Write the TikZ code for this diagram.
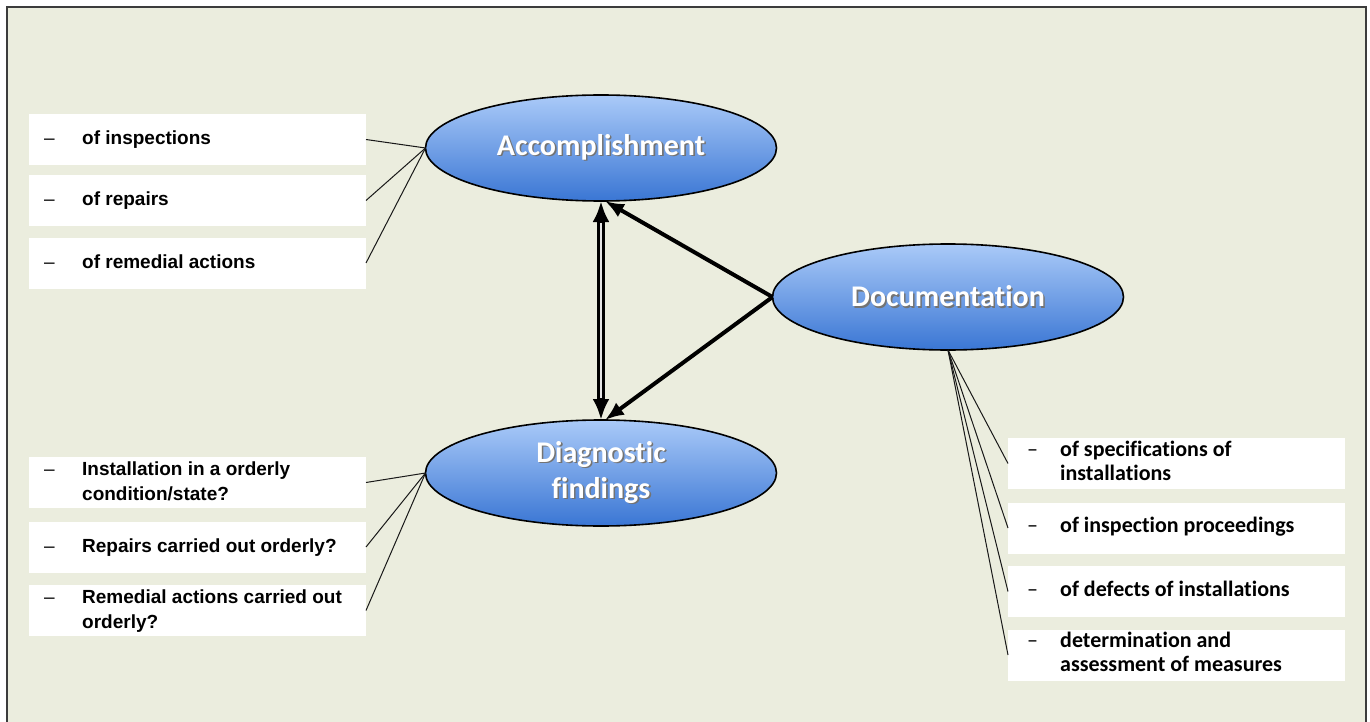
\documentclass[tikz,border=0pt]{standalone}
\usepackage{fontspec}
\setmainfont{Liberation Sans}
\newfontfamily\calibri[Ligatures=NoCommon]{Carlito}
\usetikzlibrary{shapes.geometric,arrows.meta,calc}
\definecolor{paper}{RGB}{235,237,222}
\definecolor{frameline}{RGB}{60,60,60}
\definecolor{ellTop}{RGB}{170,202,248}
\definecolor{ellBot}{RGB}{58,118,212}
% white label text with a soft dark drop shadow
\newcommand\glowtext[1]{\makebox[0pt][l]{\hspace{1.6pt}\raisebox{-1.6pt}{\textcolor{black!55}{#1}}}\textcolor{white}{#1}}
\tikzset{
  bubble/.style={ellipse, draw=black, line width=1.6pt, top color=ellTop, bottom color=ellBot,
    minimum width=351pt, minimum height=106pt, inner sep=0pt, outer sep=0pt,
    font=\calibri\bfseries\fontsize{30}{36}\selectfont, align=center},
  itembox/.style={fill=white, minimum width=337pt, minimum height=51pt, inner sep=0pt, outer sep=0pt},
  ltext/.style={anchor=west, inner sep=0pt, font=\bfseries\fontsize{19}{25}\selectfont},
  rtext/.style={anchor=west, inner sep=0pt, font=\calibri\bfseries\fontsize{22}{24}\selectfont},
  spoke/.style={draw=black!90, line width=1pt},
  tie/.style={line width=4pt, -{Latex[length=19pt,width=15pt]}},
}
\newcommand\litem[1]{\begin{tabular}{@{}p{38pt}@{}l@{}}\mdseries\textendash & #1\end{tabular}}
\newcommand\ritem[1]{\begin{tabular}{@{}p{33pt}@{}l@{}}\mdseries\textendash & #1\end{tabular}}
\begin{document}
\begin{tikzpicture}[x=1pt,y=-1pt]
\useasboundingbox (0,0) rectangle (1370,722);
% frame
\fill[paper] (7,7) rectangle (1366,722);
\draw[frameline, line width=2pt] (7,722) -- (7,7) -- (1366,7) -- (1366,722);

% central ellipses
\node[bubble] (acc) at (601,148) {\glowtext{Accomplishment}};
\node[bubble] (doc) at (948,297) {\glowtext{Documentation}};
\node[bubble] (diag) at (601,473) {\raisebox{-4pt}{\begin{tabular}{@{}c@{}}\glowtext{Diagnostic}\\\glowtext{findings}\end{tabular}}};

% left item boxes (accomplishment)
\node[itembox] (l1) at (197.5,139.5) {};
\node[itembox] (l2) at (197.5,200.5) {};
\node[itembox] (l3) at (197.5,263) {};
\node[ltext] (l1t) at (44,139.5) {\litem{of inspections}};
\node[ltext] (l2t) at (44,200.5) {\litem{of repairs}};
\node[ltext] (l3t) at (44,263) {\litem{of remedial actions}};

% left item boxes (diagnostic findings)
\node[itembox] (l4) at (197.5,482.5) {};
\node[itembox] (l5) at (197.5,547) {};
\node[itembox] (l6) at (197.5,610.5) {};
\node[ltext] (l4t) at (44,482.5) {\litem{Installation in a orderly\\&condition/state?}};
\node[ltext] (l5t) at (44,547) {\litem{Repairs carried out orderly?}};
\node[ltext] (l6t) at (44,610.5) {\litem{Remedial actions carried out\\&orderly?}};

% right item boxes (documentation)
\node[itembox] (r1) at (1176.5,463.5) {};
\node[itembox] (r2) at (1176.5,528) {};
\node[itembox] (r3) at (1176.5,591.5) {};
\node[itembox] (r4) at (1176.5,655) {};
\node[rtext] (r1t) at (1027,463.5) {\ritem{of specifications of\\&installations}};
\node[rtext] (r2t) at (1027,528) {\ritem{of inspection proceedings}};
\node[rtext] (r3t) at (1027,591.5) {\ritem{of defects of installations}};
\node[rtext] (r4t) at (1027,655) {\ritem{determination and\\&assessment of measures}};

% spokes from the ellipses to their items
\foreach \b in {l1,l2,l3} \draw[spoke] (acc.west) -- (\b.east);
\foreach \b in {l4,l5,l6} \draw[spoke] (diag.west) -- (\b.east);
\foreach \b in {r1,r2,r3,r4} \draw[spoke] (doc.south) -- (\b.west);

% relations between the three ellipses
\draw[line width=8pt, {Latex[length=21pt,width=17pt]}-{Latex[length=21pt,width=17pt]}] (acc.south) -- (diag.north);
\draw[white!80!gray, line width=1.3pt, shorten <=22pt, shorten >=22pt] (acc.south) -- (diag.north);
\draw[tie] (doc.west) -- ([xshift=4pt]acc.south);
\draw[tie] (doc.west) -- ([xshift=4pt]diag.north);
\end{tikzpicture}
\end{document}
